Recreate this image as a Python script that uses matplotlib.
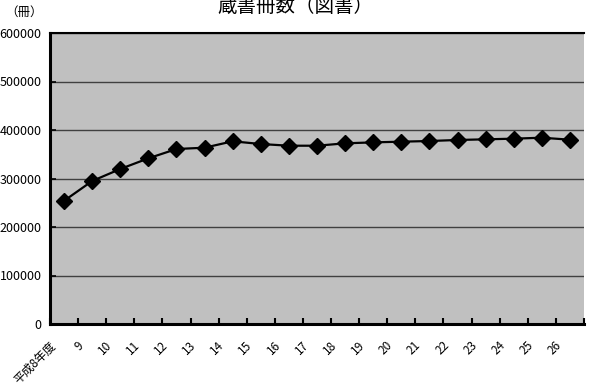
import numpy as np
import matplotlib
matplotlib.use("Agg")
import matplotlib.pyplot as plt
import matplotlib.transforms as mtransforms

plt.rcParams['font.family'] = ['Noto Sans CJK JP', 'DejaVu Sans']

# data
years = ['平成8年度', '9', '10', '11', '12', '13', '14', '15', '16', '17',
         '18', '19', '20', '21', '22', '23', '24', '25', '26']
books = [254000, 294800, 319600, 341600, 360800, 363500, 376700, 371100,
         367600, 367600, 372500, 374500, 375900, 377300, 379400, 380800,
         382100, 384100, 380000]
yticks = [0, 100000, 200000, 300000, 400000, 500000, 600000]

fig = plt.figure(figsize=(5.9, 3.89), dpi=100)
ax = fig.add_axes([50 / 590, 65 / 389, 534 / 590, 291 / 389])
ax.set_facecolor('#C0C0C0')

x = np.arange(len(years))
ax.plot(x, books, color='black', linewidth=1.6, marker='D', markersize=8.5,
        markerfacecolor='black', markeredgecolor='black', zorder=3)

ax.set_xlim(-0.5, len(years) - 0.5)
ax.set_ylim(0, 600000)
ax.set_yticks(yticks)
ax.set_yticklabels([str(v) for v in yticks], fontsize=9)
ax.yaxis.grid(True, color='#404040', linewidth=1.0)
ax.set_axisbelow(True)

# ticks sit on category boundaries, labels under the categories
ax.set_xticks(np.arange(len(years) + 1) - 0.5)
ax.set_xticklabels([])
ax.tick_params(axis='x', direction='in', length=4, width=1.5, color='black')
ax.tick_params(axis='y', direction='in', length=4, width=1.2, color='black', pad=6)

offset = mtransforms.ScaledTranslation(-6 / 100, -15 / 100, fig.dpi_scale_trans)
trans = ax.get_xaxis_transform() + offset
for xi, lab in zip(x, years):
    ax.text(xi, 0, lab, transform=trans, rotation=45, ha='right', va='top',
            fontsize=8.5)

ax.spines['right'].set_visible(False)
ax.spines['left'].set_linewidth(2.2)
ax.spines['bottom'].set_linewidth(2.2)
ax.spines['top'].set_linewidth(1.5)

fig.text(0.5, 1 - 6 / 389, '蔵書冊数（図書）', ha='center', va='center',
         fontsize=14)
fig.text(24 / 590, 1 - 12 / 389, '（冊）', ha='center', va='center', fontsize=9)

fig.savefig('out.png', dpi=100)
